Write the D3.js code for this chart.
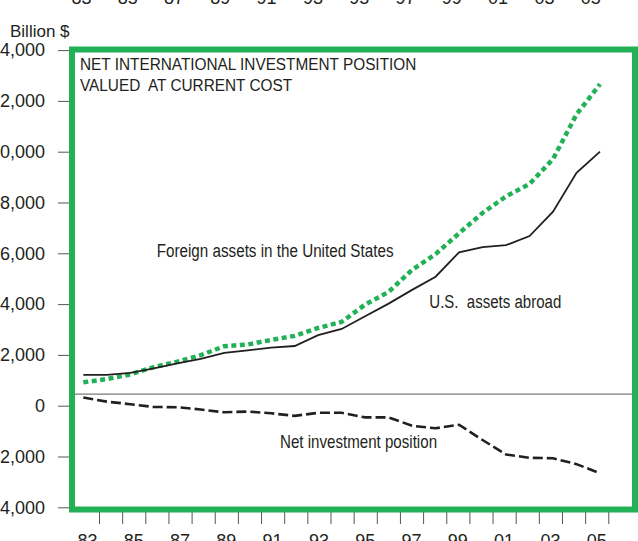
<!DOCTYPE html>
<html>
<head>
<meta charset="utf-8">
<title>Net international investment position</title>
<script src="https://cdn.jsdelivr.net/npm/d3@7"></script>
<style>
    body { margin: 0; background: #fff; }
    svg { display: block; }
    text { fill: #231f20; font-family: "Liberation Sans", Arial, sans-serif; }
</style>
</head>
<body>
<script>
    // values, billions of dollars, year end
    const years = d3.range(1983, 2006);
    const usAssetsAbroad = [1210, 1210, 1290, 1470, 1670, 1840, 2080, 2180, 2290, 2350, 2780, 3020,
        3520, 4020, 4560, 5080, 6040, 6240, 6320, 6680, 7640, 9170, 10000];
    const foreignAssetsInUS = [920, 1050, 1230, 1520, 1730, 1990, 2340, 2410, 2590, 2750, 3060, 3300,
        3980, 4480, 5350, 5970, 6790, 7590, 8240, 8730, 9710, 11470, 12660];
    const netPosition = [320, 160, 60, -50, -60, -150, -260, -230, -300, -400, -280, -280,
        -460, -460, -790, -890, -750, -1350, -1920, -2050, -2070, -2300, -2660];
    const yTicks = [-4000, -2000, 0, 2000, 4000, 6000, 8000, 10000, 12000, 14000];
    const labelYears = [1983, 1985, 1987, 1989, 1991, 1993, 1995, 1997, 1999, 2001, 2003, 2005];

    const width = 638, height = 541;
    const green = "#22b157", ink = "#231f20";

    const svg = d3.select("body").append("svg")
        .attr("width", width)
        .attr("height", height);

    const y = d3.scaleLinear().domain([-4000, 14000]).range([507.3, 50.1]);
    // year boundaries for the tick marks
    const xAxisScale = d3.scaleLinear().domain([1982.5, 2005.5]).range([75.85, 608.3]);
    // the plotted points sit slightly wider than the year cells
    const x = d3.scaleLinear().domain([1983, 2005]).range([83.3, 600]);

    // y axis, outside the frame
    const yAxis = svg.append("g")
        .attr("transform", "translate(70,0)")
        .call(d3.axisLeft(y).tickValues(yTicks).tickSize(12).tickPadding(13).tickFormat(d3.format(",")));
    yAxis.select(".domain").remove();
    yAxis.selectAll("line").attr("stroke", "#555");
    yAxis.selectAll("text").attr("font-size", 18).attr("fill", ink)
        .style("font-family", "'Liberation Sans', Arial, sans-serif");

    svg.append("text")
        .attr("x", 10).attr("y", 36.5)
        .attr("font-size", 17)
        .text("Billion $");

    // bottom ticks at year boundaries
    const xAxis = svg.append("g")
        .attr("transform", "translate(0,512)")
        .call(d3.axisBottom(xAxisScale).tickValues(d3.range(1983.5, 2006, 1)).tickSize(12).tickFormat(""));
    xAxis.select(".domain").remove();
    xAxis.selectAll("line").attr("stroke", "#555");

    const fmtYear = d => d3.format("02")(d % 100);

    svg.append("g")
        .selectAll("text")
        .data(labelYears)
        .enter().append("text")
        .attr("x", d => xAxisScale(d))
        .attr("y", 546.5)
        .attr("text-anchor", "middle")
        .attr("font-size", 18)
        .text(fmtYear);

    // labels of the chart above, cut by the top edge
    svg.append("g")
        .selectAll("text")
        .data(labelYears)
        .enter().append("text")
        .attr("x", d => xAxisScale(d) - 6)
        .attr("y", 4)
        .attr("text-anchor", "middle")
        .attr("font-size", 18)
        .text(fmtYear);

    // thin rule, drawn a little above zero as in the source
    svg.append("line")
        .attr("x1", 75).attr("x2", 632)
        .attr("y1", y(0) - 11.5).attr("y2", y(0) - 11.5)
        .attr("stroke", "#7a7a7a")
        .attr("stroke-width", 1.2);

    const line = d3.line()
        .x((d, i) => x(years[i]))
        .y(d => y(d));

    svg.append("path")
        .datum(foreignAssetsInUS)
        .attr("d", line)
        .attr("fill", "none")
        .attr("stroke", green)
        .attr("stroke-width", 4.5)
        .attr("stroke-dasharray", "5,3.5");

    svg.append("path")
        .datum(usAssetsAbroad)
        .attr("d", line)
        .attr("fill", "none")
        .attr("stroke", ink)
        .attr("stroke-width", 1.8);

    svg.append("path")
        .datum(netPosition)
        .attr("d", line)
        .attr("fill", "none")
        .attr("stroke", ink)
        .attr("stroke-width", 2.6)
        .attr("stroke-dasharray", "10,4");

    // frame
    svg.append("rect")
        .attr("x", 72).attr("y", 49.5)
        .attr("width", 563).attr("height", 460)
        .attr("fill", "none")
        .attr("stroke", green)
        .attr("stroke-width", 6);

    // condensed type: plain Liberation Sans squeezed horizontally
    function narrowText(px, py, size, sx, str) {
        return svg.append("text")
            .attr("transform", "translate(" + px + "," + py + ") scale(" + sx + ",1)")
            .attr("font-size", size)
            .attr("xml:space", "preserve")
            .text(str);
    }

    narrowText(80, 70, 16, 0.96, "NET INTERNATIONAL INVESTMENT POSITION");
    narrowText(80, 91, 16, 0.96, "VALUED  AT CURRENT COST");
    narrowText(156.7, 257.3, 18, 0.846, "Foreign assets in the United States");
    narrowText(429.3, 308.3, 18, 0.835, "U.S.  assets abroad");
    narrowText(280, 447.7, 18, 0.84, "Net investment position");
</script>
</body>
</html>
